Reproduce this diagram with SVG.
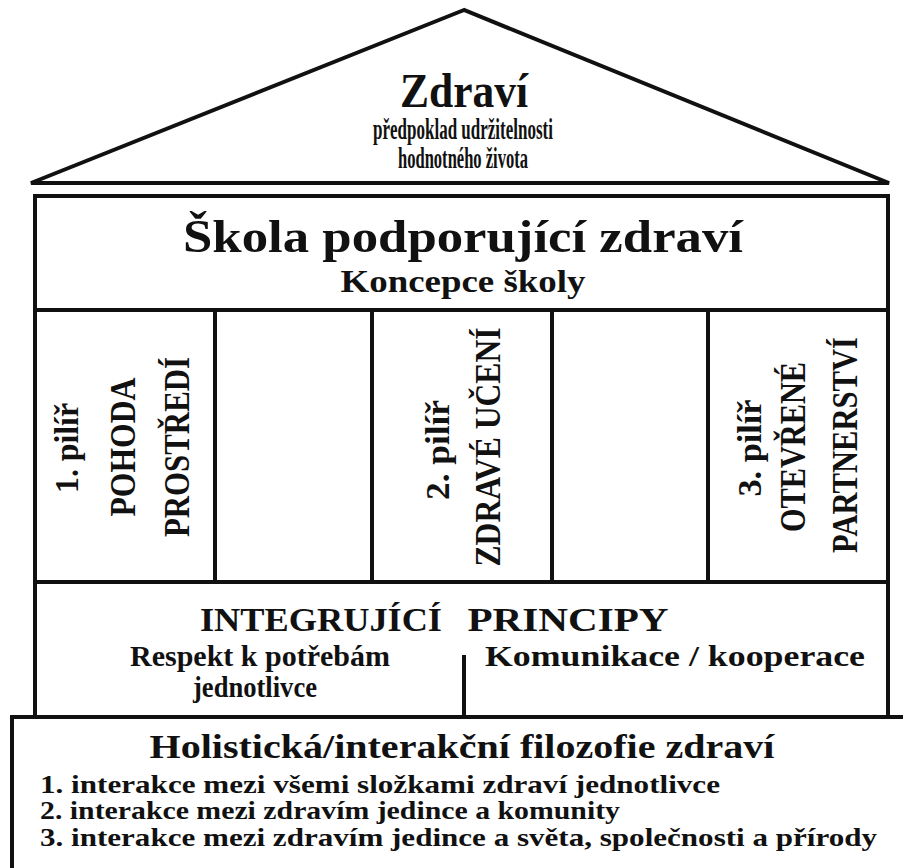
<svg xmlns="http://www.w3.org/2000/svg" width="903" height="868" viewBox="0 0 903 868">
<style>
 .ln{stroke:#111;fill:none;stroke-width:4;stroke-linejoin:miter}
 .t{font-family:"Liberation Serif","Times New Roman",serif;font-weight:bold;fill:#111;text-anchor:middle}
 .l{font-family:"Liberation Serif","Times New Roman",serif;font-weight:bold;fill:#111;text-anchor:start}
</style>
<rect width="903" height="868" fill="#fff"/>
<g id="roof">
 <polygon points="464,10 31,183 889,183" class="ln" stroke-width="3"/>
 <line x1="31" y1="183" x2="889" y2="183" class="ln" stroke-width="4"/>
 <text class="t" x="464" y="107" font-size="48" textLength="128" lengthAdjust="spacingAndGlyphs">Zdraví</text>
 <text class="t" x="463" y="139" font-size="29" textLength="180" lengthAdjust="spacingAndGlyphs">předpoklad udržitelnosti</text>
 <text class="t" x="463" y="168" font-size="29" textLength="130" lengthAdjust="spacingAndGlyphs">hodnotného života</text>
</g>
<g id="school">
 <rect x="35" y="196" width="853" height="114" class="ln"/>
 <text class="t" x="463" y="252" font-size="46" textLength="560" lengthAdjust="spacingAndGlyphs">Škola podporující zdraví</text>
 <text class="t" x="463" y="292" font-size="31" textLength="245" lengthAdjust="spacingAndGlyphs">Koncepce školy</text>
</g>
<g id="pillar1">
 <rect x="35" y="310" width="180" height="272" class="ln"/>
 <text class="t" transform="translate(78,448) rotate(-90)" font-size="33" textLength="90" lengthAdjust="spacingAndGlyphs">1. pilíř</text>
 <text class="t" transform="translate(135,447) rotate(-90)" font-size="35" textLength="139" lengthAdjust="spacingAndGlyphs">POHODA</text>
 <text class="t" transform="translate(189,447) rotate(-90)" font-size="35" textLength="180" lengthAdjust="spacingAndGlyphs">PROSTŘEDÍ</text>
</g>
<g id="gap1">
 <rect x="215" y="310" width="157" height="272" class="ln"/>
</g>
<g id="pillar2">
 <rect x="372" y="310" width="180" height="272" class="ln"/>
 <text class="t" transform="translate(449,450) rotate(-90)" font-size="33" textLength="100" lengthAdjust="spacingAndGlyphs">2. pilíř</text>
 <text class="t" transform="translate(500,447) rotate(-90)" font-size="35" textLength="239" lengthAdjust="spacingAndGlyphs">ZDRAVÉ UČENÍ</text>
</g>
<g id="gap2">
 <rect x="552" y="310" width="156" height="272" class="ln"/>
</g>
<g id="pillar3">
 <rect x="708" y="310" width="180" height="272" class="ln"/>
 <text class="t" transform="translate(761,448) rotate(-90)" font-size="33" textLength="97" lengthAdjust="spacingAndGlyphs">3. pilíř</text>
 <text class="t" transform="translate(805,447) rotate(-90)" font-size="35" textLength="170" lengthAdjust="spacingAndGlyphs">OTEVŘENÉ</text>
 <text class="t" transform="translate(857,445) rotate(-90)" font-size="35" textLength="216" lengthAdjust="spacingAndGlyphs">PARTNERSTVÍ</text>
</g>
<g id="principles">
 <rect x="35" y="582" width="853" height="135" class="ln"/>
 <text class="t" x="321" y="631" font-size="33" textLength="242" lengthAdjust="spacingAndGlyphs">INTEGRUJÍCÍ</text>
 <text class="t" x="568" y="631" font-size="33" textLength="201" lengthAdjust="spacingAndGlyphs">PRINCIPY</text>
 <text class="t" x="260" y="666" font-size="30" textLength="260" lengthAdjust="spacingAndGlyphs">Respekt k potřebám</text>
 <text class="t" x="255" y="697" font-size="30" textLength="124" lengthAdjust="spacingAndGlyphs">jednotlivce</text>
 <text class="t" x="675" y="666" font-size="30" textLength="380" lengthAdjust="spacingAndGlyphs">Komunikace / kooperace</text>
</g>
<g id="connectors">
 <line x1="464" y1="655" x2="464" y2="717" class="ln" stroke-width="6"/>
</g>
<g id="philosophy">
 <rect x="12" y="717" width="900" height="160" class="ln"/>
 <text class="t" x="462" y="758" font-size="34" textLength="625" lengthAdjust="spacingAndGlyphs">Holistická/interakční filozofie zdraví</text>
 <text class="l" x="40" y="793" font-size="25" textLength="680" lengthAdjust="spacingAndGlyphs">1. interakce mezi všemi složkami zdraví jednotlivce</text>
 <text class="l" x="40" y="819" font-size="25" textLength="580" lengthAdjust="spacingAndGlyphs">2. interakce mezi zdravím jedince a komunity</text>
 <text class="l" x="40" y="846" font-size="25" textLength="837" lengthAdjust="spacingAndGlyphs">3. interakce mezi zdravím jedince a světa, společnosti a přírody</text>
</g>
</svg>
